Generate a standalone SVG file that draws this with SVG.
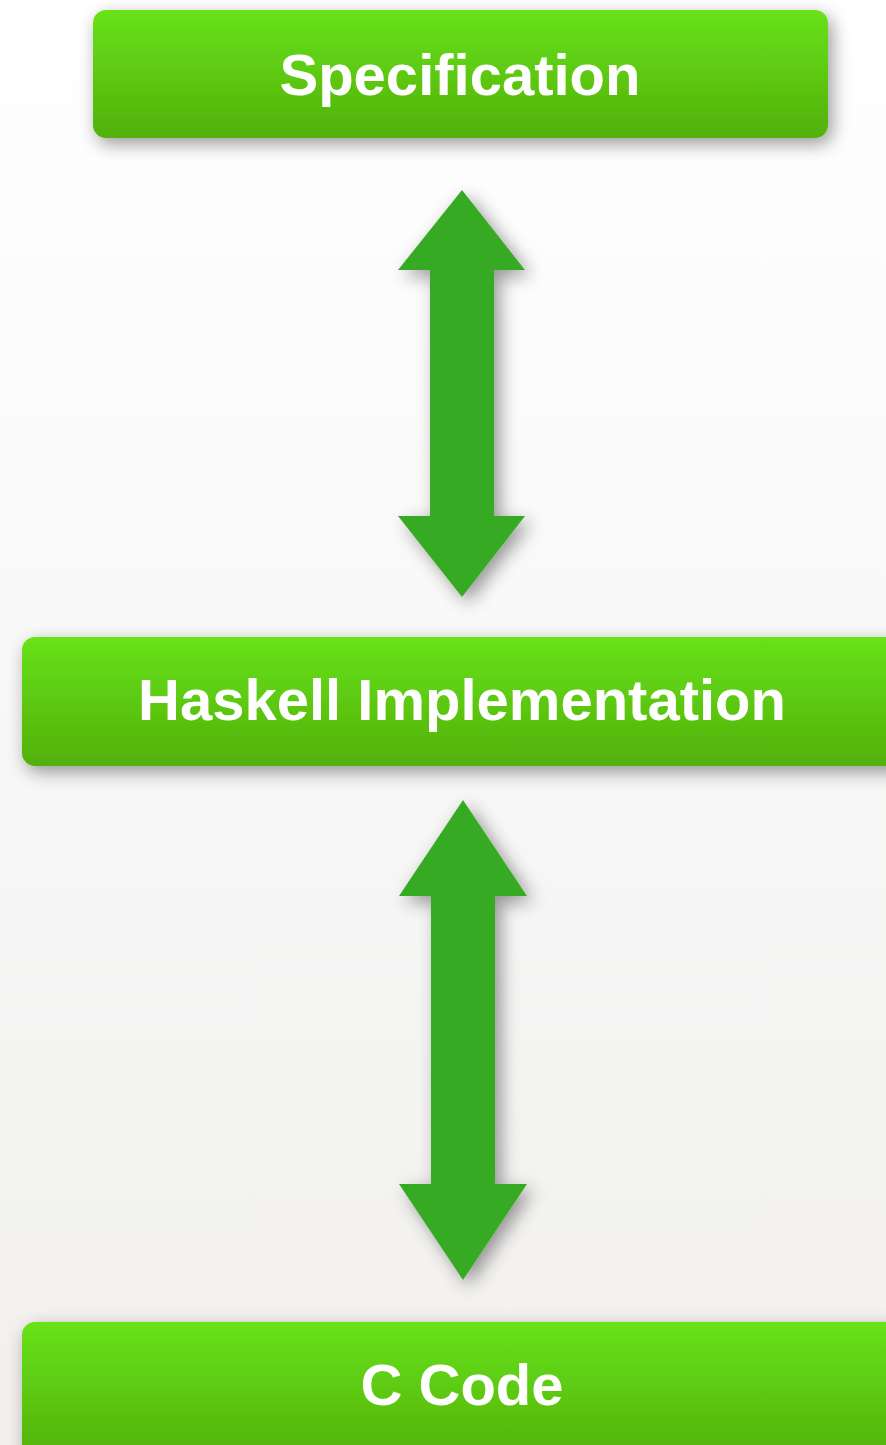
<svg xmlns="http://www.w3.org/2000/svg" width="886" height="1445" viewBox="0 0 886 1445">
  <defs>
    <linearGradient id="bg" x1="0" y1="0" x2="0" y2="1">
      <stop offset="0" stop-color="#ffffff"/>
      <stop offset="1" stop-color="#f1f0ef"/>
    </linearGradient>
    <linearGradient id="boxFill" x1="0" y1="0" x2="0" y2="1">
      <stop offset="0" stop-color="#68e214"/>
      <stop offset="1" stop-color="#52b00f"/>
    </linearGradient>
    <filter id="shadow" x="-10%" y="-50%" width="130%" height="210%">
      <feGaussianBlur in="SourceAlpha" stdDeviation="9"/>
      <feOffset dx="4" dy="6" result="b"/>
      <feComponentTransfer><feFuncA type="linear" slope="0.4"/></feComponentTransfer>
      <feMerge><feMergeNode/><feMergeNode in="SourceGraphic"/></feMerge>
    </filter>
    <filter id="arrowShadow" x="-60%" y="-20%" width="220%" height="140%">
      <feGaussianBlur in="SourceAlpha" stdDeviation="9"/>
      <feOffset dx="6" dy="6" result="b"/>
      <feComponentTransfer><feFuncA type="linear" slope="0.4"/></feComponentTransfer>
      <feMerge><feMergeNode/><feMergeNode in="SourceGraphic"/></feMerge>
    </filter>
  </defs>
  <style>
    .box { fill: url(#boxFill); filter: url(#shadow); }
    .label { font-family: "Liberation Sans", Arial, sans-serif; font-weight: bold; font-size: 58px; fill: #ffffff; text-anchor: middle; }
    .arrow { fill: #36aa22; filter: url(#arrowShadow); }
  </style>

  <rect x="0" y="0" width="886" height="1445" fill="url(#bg)"/>

  <g id="connectors">
    <path class="arrow" d="M462,190 L525,270 L494,270 L494,516 L525,516 L462,597 L398,516 L430,516 L430,270 L398,270 Z"/>
    <path class="arrow" d="M463,800 L527,896 L495,896 L495,1184 L527,1184 L463,1280 L399,1184 L431,1184 L431,896 L399,896 Z"/>
  </g>

  <g id="specification">
    <rect class="box" x="93" y="10" width="735" height="128" rx="13"/>
    <text class="label" x="460" y="95">Specification</text>
  </g>

  <g id="haskell-implementation">
    <rect class="box" x="22" y="637" width="890" height="129" rx="13"/>
    <text class="label" x="462" y="720">Haskell Implementation</text>
  </g>

  <g id="c-code">
    <rect class="box" x="22" y="1322" width="890" height="140" rx="13"/>
    <text class="label" x="462" y="1405">C Code</text>
  </g>
</svg>
